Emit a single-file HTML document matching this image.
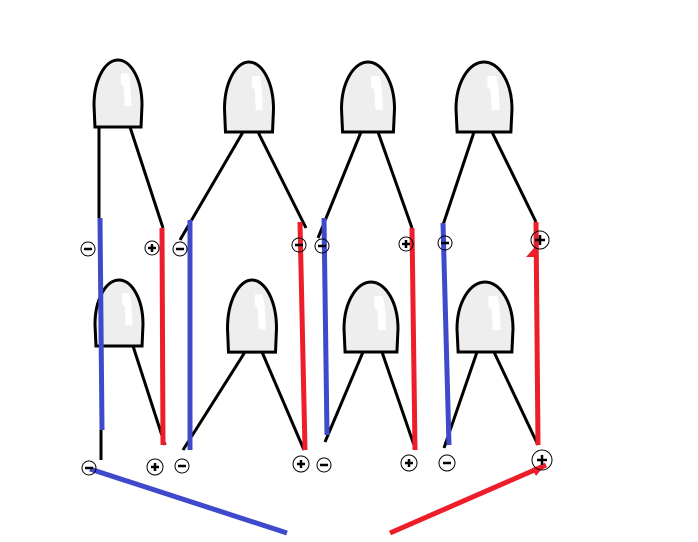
<!DOCTYPE html>
<html><head><meta charset="utf-8"><style>html,body{margin:0;padding:0;background:#fff}svg{display:block}</style></head>
<body>
<svg width="698" height="542" viewBox="0 0 698 542" xmlns="http://www.w3.org/2000/svg">
<defs>
<g id="b">
<path d="M-24,70 L-25,47 A25,47 0 0 1 25,47 L24,70 Z" fill="#eeeeee" stroke="#000" stroke-width="3" vector-effect="non-scaling-stroke"/>
<path d="M3,14 L11,14 L13,26 L14,48 L7,48 L6,28 L3,25 Z" fill="#fff"/>
</g>
</defs>
<use href="#b" transform="translate(118,60) scale(0.96,0.957)"/>
<use href="#b" transform="translate(249,62) scale(0.98,1)"/>
<use href="#b" transform="translate(368,62) scale(1.06,1)"/>
<use href="#b" transform="translate(484,62) scale(1.12,1)"/>
<use href="#b" transform="translate(119,280) scale(0.96,0.943)"/>
<use href="#b" transform="translate(252,280) scale(0.98,1.03)"/>
<use href="#b" transform="translate(371,282) scale(1.08,1)"/>
<use href="#b" transform="translate(485,282) scale(1.12,1)"/>
<g stroke="#000" stroke-width="3" fill="none">
<line x1="99" y1="127" x2="99" y2="220"/>
<line x1="130" y1="127" x2="163" y2="228"/>
<line x1="243" y1="132" x2="180" y2="240"/>
<line x1="258" y1="132" x2="306" y2="228"/>
<line x1="361" y1="132" x2="318" y2="238"/>
<line x1="378" y1="132" x2="412" y2="228"/>
<line x1="474" y1="132" x2="443" y2="225"/>
<line x1="492" y1="132" x2="536" y2="222"/>
<line x1="101" y1="430" x2="101" y2="460"/>
<line x1="133" y1="346" x2="165" y2="445"/>
<line x1="245" y1="352" x2="183" y2="450"/>
<line x1="262" y1="352" x2="304" y2="450"/>
<line x1="363" y1="352" x2="325" y2="442"/>
<line x1="382" y1="352" x2="415" y2="448"/>
<line x1="477" y1="352" x2="444" y2="448"/>
<line x1="494" y1="352" x2="538" y2="445"/>
</g>
<g stroke="#3e49cc" stroke-width="5" fill="none">
<line x1="100" y1="218" x2="102" y2="430"/>
<line x1="190" y1="220" x2="190" y2="450"/>
<line x1="324" y1="218" x2="327" y2="435"/>
<line x1="443" y1="223" x2="449" y2="445"/>
<line x1="90" y1="469" x2="287" y2="533"/>
</g>
<g stroke="#ee1d2a" stroke-width="5" fill="none">
<line x1="162" y1="228" x2="163" y2="445"/>
<line x1="300" y1="222" x2="305" y2="450"/>
<line x1="412" y1="228" x2="415" y2="450"/>
<line x1="536" y1="222" x2="538" y2="445"/>
<line x1="390" y1="533" x2="546" y2="465"/>
</g>
<path d="M534,248 L526,257 L536,257 Z" fill="#ee1d2a"/>
<path d="M546,464 L532,468 L536,476 Z" fill="#ee1d2a"/>
<g stroke="#000" fill="none">
<g stroke-width="1">
<circle cx="88" cy="249" r="7"/><circle cx="152" cy="248" r="7"/><circle cx="180" cy="249" r="7"/>
<circle cx="299" cy="245" r="7"/><circle cx="322" cy="246" r="7"/><circle cx="406" cy="244" r="7"/>
<circle cx="445" cy="243" r="7"/><circle cx="540" cy="240" r="9"/>
<circle cx="89" cy="468" r="7"/><circle cx="155" cy="467" r="8"/><circle cx="182" cy="466" r="7"/>
<circle cx="301" cy="464" r="8"/><circle cx="324" cy="465" r="7"/><circle cx="409" cy="463" r="8"/>
<circle cx="447" cy="463" r="8"/><circle cx="542" cy="460" r="10"/>
</g>
<g stroke-width="2.5">
<path d="M84,249h8 M176,249h8 M295,245h8 M318,246h8 M441,243h8 M85,468h8 M178,466h8 M320,465h8 M443,463h8"/>
<path d="M148,248h8 M152,244v8 M402,244h8 M406,240v8 M535,240h10 M540,235v10 M151,467h8 M155,463v8 M297,464h8 M301,460v8 M405,463h8 M409,459v8 M537,460h10 M542,455v10"/>
</g>
</g>
</svg>
</body></html>
